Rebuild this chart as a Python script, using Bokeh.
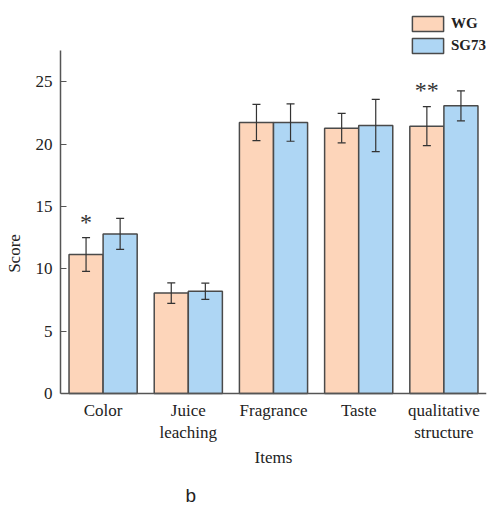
from bokeh.plotting import figure
from bokeh.models import (ColumnDataSource, FactorRange, Range1d, Whisker, TeeHead,
                          Legend, LegendItem, Label, FixedTicker)
from bokeh.transform import dodge
from bokeh.core.properties import value
from bokeh.embed import file_html
from bokeh.resources import INLINE

items = ["Color", "Juice\nleaching", "Fragrance", "Taste", "qualitative\nstructure"]
wg = [11.15, 8.05, 21.73, 21.28, 21.44]
wg_err = [1.35, 0.82, 1.45, 1.18, 1.57]
sg73 = [12.8, 8.2, 21.73, 21.49, 23.07]
sg73_err = [1.25, 0.65, 1.5, 2.1, 1.2]
sig_items = ["Color", "qualitative\nstructure"]
sig_marks = ["*", "**"]
sig_y = [13.75, 24.35]
y_ticks = [0, 5, 10, 15, 20, 25]
y_max = 27.5

SERIF = "Liberation Serif"
WG_COLOR = "#FDD5BA"
SG_COLOR = "#AED6F4"
EDGE = "#4a4a4a"
TXT = "#222222"

src = ColumnDataSource(dict(
    items=items, wg=wg, sg73=sg73,
    wg_lo=[v - e for v, e in zip(wg, wg_err)], wg_hi=[v + e for v, e in zip(wg, wg_err)],
    sg_lo=[v - e for v, e in zip(sg73, sg73_err)], sg_hi=[v + e for v, e in zip(sg73, sg73_err)],
))

W, H = 495, 506
ZERO_PX = 393          # canvas row of y = 0
PX_PER_UNIT = 12.47
p = figure(width=W, height=H, x_range=FactorRange(*items, range_padding=0),
           y_range=Range1d(-(H - ZERO_PX) / PX_PER_UNIT, ZERO_PX / PX_PER_UNIT),
           output_backend="svg", toolbar_location=None,
           min_border_left=60, min_border_right=W - 486, min_border_top=0, min_border_bottom=0)
p.outline_line_color = None
p.grid.grid_line_color = None
p.background_fill_color = "white"

r_wg = p.vbar(x=dodge("items", -0.2, range=p.x_range), top="wg", width=0.4, source=src,
              fill_color=WG_COLOR, line_color=EDGE, line_width=1.5)
r_sg = p.vbar(x=dodge("items", 0.2, range=p.x_range), top="sg73", width=0.4, source=src,
              fill_color=SG_COLOR, line_color=EDGE, line_width=1.5)

for off, lo, hi in [(-0.2, "wg_lo", "wg_hi"), (0.2, "sg_lo", "sg_hi")]:
    w = Whisker(base=dodge("items", off, range=p.x_range), lower=lo, upper=hi, source=src,
                level="annotation", line_color="#333333", line_width=1.2,
                upper_head=TeeHead(size=8, line_color="#333333", line_width=1.2),
                lower_head=TeeHead(size=8, line_color="#333333", line_width=1.2))
    p.add_layout(w)

sig_src = ColumnDataSource(dict(items=sig_items, marks=sig_marks, y=sig_y))
p.text(x=dodge("items", -0.2, range=p.x_range), y="y", text="marks", source=sig_src,
       text_font=value(SERIF), text_font_size="24px", text_align="center",
       text_baseline="middle", text_color="#333333")

# axes
p.yaxis.ticker = FixedTicker(ticks=y_ticks)
p.yaxis.bounds = (0, y_max)
p.yaxis.major_tick_in = 6
p.yaxis.major_tick_out = 0
p.yaxis.minor_tick_line_color = None
p.yaxis.major_label_standoff = 8
p.yaxis.axis_label = "Score"
p.yaxis.axis_label_standoff = 9

p.xaxis.fixed_location = 0
p.xaxis.major_label_standoff = 1
p.xaxis.axis_label = "Items"
p.xaxis.axis_label_standoff = 3

for ax in (p.xaxis[0], p.yaxis[0]):
    ax.axis_line_color = "#555555"
    ax.axis_line_width = 1.5
    ax.major_label_text_font = SERIF
    ax.major_label_text_font_size = "17px"
    ax.major_label_text_color = TXT
    ax.axis_label_text_font = SERIF
    ax.axis_label_text_font_size = "17px"
    ax.axis_label_text_font_style = "normal"
    ax.axis_label_text_color = TXT
p.yaxis.major_tick_line_color = "#555555"
p.xaxis.major_tick_line_color = None

legend = Legend(items=[LegendItem(label="WG", renderers=[r_wg]),
                       LegendItem(label="SG73", renderers=[r_sg])],
                location=(348, H - 55), orientation="vertical",
                glyph_width=39, glyph_height=19, spacing=3, padding=0, margin=0,
                label_standoff=4, label_text_font=SERIF, label_text_font_size="15px",
                label_text_font_style="bold", label_text_color=TXT,
                border_line_color=None, background_fill_alpha=0)
p.add_layout(legend)

p.add_layout(Label(x=1.467, y=-7.35, text="b", text_font="Liberation Sans",
                   text_font_size="19px", text_baseline="top", text_color=TXT))

open("out.html", "w").write(file_html(p, INLINE))
